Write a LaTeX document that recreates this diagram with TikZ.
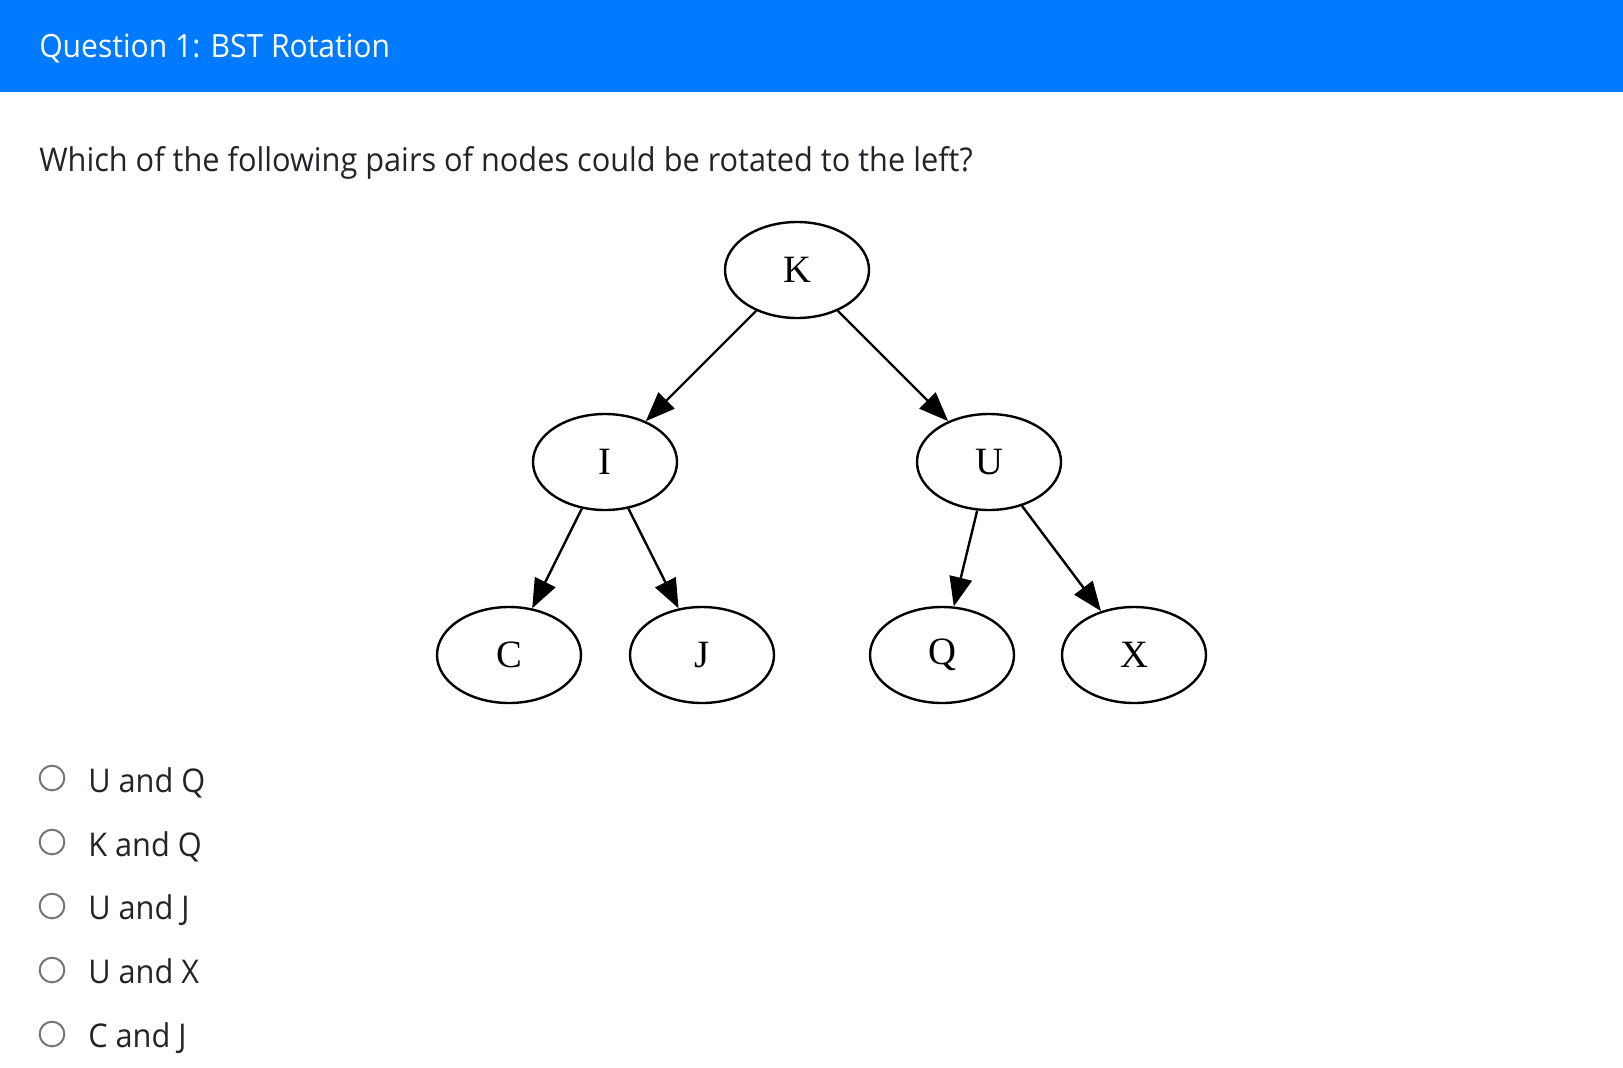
\documentclass[tikz,border=0pt]{standalone}
\usepackage{fontspec}
\setmainfont{Open Sans}[FakeStretch=0.94]
\newfontfamily\graphfont{Liberation Serif}
\usetikzlibrary{arrows.meta,shapes.geometric}
\definecolor{hdrblue}{HTML}{007BFF}
\definecolor{bodytext}{HTML}{212529}
\definecolor{radiogray}{HTML}{767676}
\tikzset{
  bstnode/.style={ellipse,draw=black,line width=1.8pt,minimum width=108pt,minimum height=72pt,inner sep=0pt,font=\graphfont\fontsize{29}{30}\selectfont},
  bstedge/.style={line width=1.8pt,-{Triangle[length=22pt,width=17pt]}},
  uitext/.style={anchor=base west,inner sep=0pt,text=bodytext,font=\fontsize{24.5}{30}\selectfont},
  radio/.style={circle,draw=radiogray,line width=1.5pt,minimum size=18.5pt,inner sep=0pt}
}
\begin{document}
\begin{tikzpicture}[x=0.75pt,y=-0.75pt]
\path[use as bounding box,fill=white] (0,0) rectangle (1623,1067);
\fill[hdrblue] (0,0) rectangle (1623,92);
\node[uitext,text=white,font=\fontsize{24}{30}\selectfont] (title) at (39,57) {Question 1: BST Rotation};
\node[uitext] (question) at (39,171) {Which of the following pairs of nodes could be rotated to the left?};

\node[bstnode] (K) at (797,270) {K};
\node[bstnode] (I) at (605,462) {I};
\node[bstnode] (U) at (989,462) {U};
\node[bstnode] (C) at (509,655) {C};
\node[bstnode] (J) at (702,655) {J};
\node[bstnode] (Q) at (942,655) {Q};
\node[bstnode] (X) at (1134,655) {X};
\draw[bstedge] (K) -- (I);
\draw[bstedge] (K) -- (U);
\draw[bstedge] (I) -- (C);
\draw[bstedge] (I) -- (J);
\draw[bstedge] (U) -- (Q);
\draw[bstedge] (U) -- (X);

\node[radio] (r1) at (52,778) {};
\node[radio] (r2) at (52,842) {};
\node[radio] (r3) at (52,906) {};
\node[radio] (r4) at (52,970) {};
\node[radio] (r5) at (52,1034) {};
\node[uitext] (o1) at (88,792) {U and Q};
\node[uitext] (o2) at (88,856) {K and Q};
\node[uitext] (o3) at (88,919) {U and J};
\node[uitext] (o4) at (88,983) {U and X};
\node[uitext] (o5) at (88,1047) {C and J};
\end{tikzpicture}
\end{document}
